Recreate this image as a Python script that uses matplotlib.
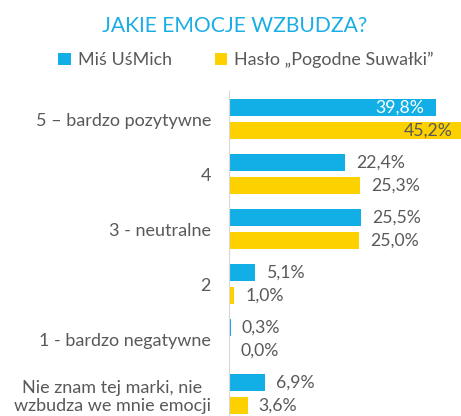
import matplotlib.pyplot as plt
import numpy as np

categories = [
    "5 – bardzo pozytywne",
    "4",
    "3 - neutralne",
    "2",
    "1 - bardzo negatywne",
    "Nie znam tej marki, nie\nwzbudza we mnie emocji",
]
mis_usmich = [39.8, 22.4, 25.5, 5.1, 0.3, 6.9]
haslo = [45.2, 25.3, 25.0, 1.0, 0.0, 3.6]
series_names = ["Miś UśMich", "Hasło „Pogodne Suwałki”"]

BLUE = "#12AFE7"
YELLOW = "#FDD000"
GREY = "#595959"
FONT = ["Lato", "DejaVu Sans"]

plt.rcParams["font.family"] = FONT

fig = plt.figure(figsize=(4.61, 4.16), dpi=100)
ax = fig.add_axes([229 / 461, 0.0, 1 - 229 / 461, 325 / 416])

y = np.arange(len(categories))
off = 0.207
h = 0.31
ax.barh(y - off, mis_usmich, height=h, color=BLUE, label=series_names[0], zorder=1)
ax.barh(y + off, haslo, height=h, color=YELLOW, label=series_names[1], zorder=1)

ax.set_xlim(0, 44.7)
ax.set_ylim(5.4, -0.51)

for vals, dy, inside_col in [(mis_usmich, -off, "white"), (haslo, off, GREY)]:
    for i, v in enumerate(vals):
        txt = f"{v:.1f}%".replace(".", ",")
        if v > 35:
            ax.annotate(txt, (v, i + dy), xytext=(-8, 0), textcoords="offset points",
                        ha="right", va="center", color=inside_col, fontsize=12.7,
                        annotation_clip=False)
        else:
            ax.annotate(txt, (v, i + dy), xytext=(8, 0), textcoords="offset points",
                        ha="left", va="center", color=GREY, fontsize=12.7)

ax.set_yticks(y)
ax.set_yticklabels(categories, fontsize=13, color=GREY, multialignment="center")
ax.tick_params(axis="y", length=0, pad=13)
ax.set_xticks([])
for s in ["top", "right", "bottom"]:
    ax.spines[s].set_visible(False)
ax.spines["left"].set_color("#D9D9D9")
ax.spines["left"].set_zorder(3)

fig.text(235 / 461, 1 - 26 / 416, "JAKIE EMOCJE WZBUDZA?", ha="center", va="center",
         color="#1AAEE4", fontsize=15.2)

fig.legend(loc="center", bbox_to_anchor=(246 / 461, 1 - 60 / 416), ncol=2, frameon=False,
           fontsize=12.9, labelcolor=GREY, handlelength=0.7, handleheight=0.7,
           handletextpad=0.4, columnspacing=2.4)

fig.savefig("out.png", dpi=100)
